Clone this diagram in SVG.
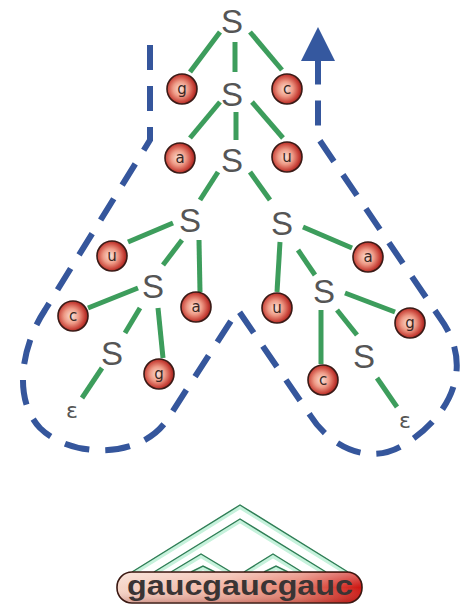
<svg xmlns="http://www.w3.org/2000/svg" width="465" height="607" viewBox="0 0 465 607">
  <defs>
    <radialGradient id="ball" cx="0.45" cy="0.5" r="0.55" fx="0.45" fy="0.5">
      <stop offset="0" stop-color="#fbe2d6"/>
      <stop offset="0.45" stop-color="#ee9a86"/>
      <stop offset="0.8" stop-color="#c9443a"/>
      <stop offset="1" stop-color="#9c1f1c"/>
    </radialGradient>
    <linearGradient id="pill" x1="0" y1="0" x2="1" y2="0">
      <stop offset="0" stop-color="#f6d6c8"/>
      <stop offset="0.45" stop-color="#f1b3a2"/>
      <stop offset="0.75" stop-color="#e57a68"/>
      <stop offset="1" stop-color="#cc1410"/>
    </linearGradient>
    <linearGradient id="pillShade" x1="0" y1="0" x2="0" y2="1">
      <stop offset="0" stop-color="#ffffff" stop-opacity="0.35"/>
      <stop offset="0.5" stop-color="#ffffff" stop-opacity="0"/>
      <stop offset="1" stop-color="#7a1010" stop-opacity="0.25"/>
    </linearGradient>
  </defs>
  <style>
    .edge { stroke: #3d9d5c; stroke-width: 5; fill: none; }
    .s { font-family: "Liberation Sans", Arial, sans-serif; font-size: 33px; fill: #555555; text-anchor: middle; }
    .eps { font-family: "DejaVu Sans", "Liberation Sans", sans-serif; font-size: 22px; fill: #555555; text-anchor: middle; }
    .ball circle { fill: url(#ball); stroke: #3a1a16; stroke-width: 1.6; }
    .ball text { font-family: "DejaVu Sans", sans-serif; font-size: 15px; fill: #3a2622; text-anchor: middle; }
    .loop { stroke: #35569c; stroke-width: 6; fill: none; stroke-dasharray: 25 16; }
    .chev-glow { stroke: #c6f2dc; stroke-width: 4; fill: none; }
    .chev { stroke: #2f7d55; stroke-width: 1.4; fill: none; }
  </style>
  <rect width="465" height="607" fill="#ffffff"/>

  <!-- traversal loop around the parse tree -->
  <g id="traversal">
    <path class="loop" d="M150,45 L150,140 L45,310 C22,345 12,398 40,428 C70,458 140,460 167,420 L238,310 L310,415 C330,447 370,467 405,444 C445,420 478,370 440,318 L318,138 L318,64"/>
    <polygon points="318,27 301,61 335,61" fill="#35589f"/>
    <rect x="315" y="58" width="6" height="22" fill="#35589f"/>
  </g>

  <!-- tree edges -->
  <g id="connectors">
    <line class="edge" x1="220" y1="32" x2="190" y2="72"/>
    <line class="edge" x1="235" y1="42" x2="235" y2="72"/>
    <line class="edge" x1="250" y1="32" x2="282" y2="70"/>
    <line class="edge" x1="220" y1="102" x2="190" y2="138"/>
    <line class="edge" x1="236" y1="112" x2="236" y2="140"/>
    <line class="edge" x1="252" y1="102" x2="283" y2="138"/>
    <line class="edge" x1="218" y1="172" x2="200" y2="200"/>
    <line class="edge" x1="250" y1="172" x2="270" y2="200"/>
    <line class="edge" x1="173" y1="223" x2="128" y2="242"/>
    <line class="edge" x1="182" y1="240" x2="163" y2="265"/>
    <line class="edge" x1="199" y1="240" x2="200" y2="292"/>
    <line class="edge" x1="138" y1="288" x2="88" y2="308"/>
    <line class="edge" x1="140" y1="308" x2="125" y2="333"/>
    <line class="edge" x1="158" y1="308" x2="163" y2="358"/>
    <line class="edge" x1="102" y1="368" x2="82" y2="398"/>
    <line class="edge" x1="280" y1="242" x2="277" y2="292"/>
    <line class="edge" x1="298" y1="250" x2="315" y2="275"/>
    <line class="edge" x1="303" y1="227" x2="352" y2="248"/>
    <line class="edge" x1="321" y1="310" x2="321" y2="364"/>
    <line class="edge" x1="337" y1="310" x2="357" y2="335"/>
    <line class="edge" x1="345" y1="293" x2="395" y2="312"/>
    <line class="edge" x1="377" y1="378" x2="397" y2="407"/>
  </g>

  <!-- nonterminals -->
  <g id="S0"><text class="s" x="232" y="33">S</text></g>
  <g id="S1"><text class="s" x="232" y="106">S</text></g>
  <g id="S2"><text class="s" x="232" y="172">S</text></g>
  <g id="S3L"><text class="s" x="190" y="232">S</text></g>
  <g id="S4L"><text class="s" x="153" y="298">S</text></g>
  <g id="S5L"><text class="s" x="112" y="365">S</text></g>
  <g id="S3R"><text class="s" x="282" y="235">S</text></g>
  <g id="S4R"><text class="s" x="324" y="303">S</text></g>
  <g id="S5R"><text class="s" x="364" y="368">S</text></g>
  <g id="epsL"><text class="eps" x="72" y="418">ε</text></g>
  <g id="epsR"><text class="eps" x="405" y="428">ε</text></g>

  <!-- terminals -->
  <g id="t-g1" class="ball"><circle cx="182" cy="89" r="15"/><text x="182" y="94">g</text></g>
  <g id="t-c1" class="ball"><circle cx="287" cy="89" r="15"/><text x="287" y="94">c</text></g>
  <g id="t-a1" class="ball"><circle cx="180" cy="158" r="15"/><text x="180" y="163">a</text></g>
  <g id="t-u1" class="ball"><circle cx="287" cy="157" r="15"/><text x="287" y="162">u</text></g>
  <g id="t-u2" class="ball"><circle cx="112" cy="256" r="15"/><text x="112" y="261">u</text></g>
  <g id="t-a2" class="ball"><circle cx="196" cy="307" r="15"/><text x="196" y="312">a</text></g>
  <g id="t-c2" class="ball"><circle cx="73" cy="316" r="15"/><text x="73" y="321">c</text></g>
  <g id="t-g2" class="ball"><circle cx="159" cy="374" r="15"/><text x="159" y="379">g</text></g>
  <g id="t-a3" class="ball"><circle cx="368" cy="257" r="15"/><text x="368" y="262">a</text></g>
  <g id="t-u3" class="ball"><circle cx="277" cy="308" r="15"/><text x="277" y="313">u</text></g>
  <g id="t-g3" class="ball"><circle cx="410" cy="323" r="15"/><text x="410" y="328">g</text></g>
  <g id="t-c3" class="ball"><circle cx="323" cy="380" r="15"/><text x="323" y="385">c</text></g>

  <!-- nested brackets over the sequence -->
  <g id="brackets">
    <g class="chev-glow" transform="translate(0,2)">
      <polyline points="132,572 240,505 348,572"/>
      <polyline points="154,572 240,519 326,572"/>
      <polyline points="171,572 201,554 231,572"/>
      <polyline points="191,572 203,566 215,572"/>
      <polyline points="244,572 273,554 302,572"/>
      <polyline points="264,572 276,566 288,572"/>
    </g>
    <g class="chev">
      <polyline points="132,572 240,505 348,572"/>
      <polyline points="154,572 240,519 326,572"/>
      <polyline points="171,572 201,554 231,572"/>
      <polyline points="191,572 203,566 215,572"/>
      <polyline points="244,572 273,554 302,572"/>
      <polyline points="264,572 276,566 288,572"/>
    </g>
  </g>

  <!-- RNA sequence -->
  <g id="sequence">
    <rect x="117" y="572" width="245" height="31" rx="15" fill="url(#pill)" stroke="#3a1812" stroke-width="1.6"/>
    <rect x="118" y="573" width="243" height="29" rx="14" fill="url(#pillShade)"/>
    <text x="127" y="595" font-family="Liberation Sans, Arial, sans-serif" font-size="27" font-weight="bold" fill="#3a3434" textLength="226" lengthAdjust="spacingAndGlyphs">gaucgaucgauc</text>
  </g>
</svg>
